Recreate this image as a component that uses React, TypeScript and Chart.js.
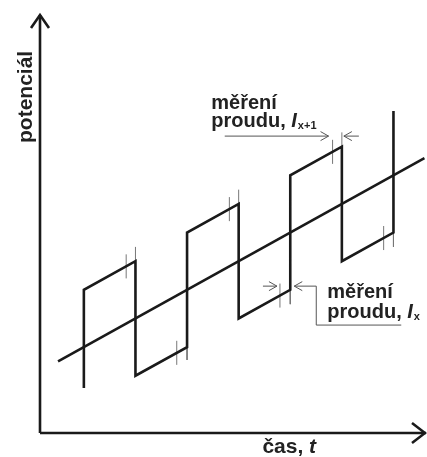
import React, { useEffect, useRef } from "react";
import { Chart, registerables } from "chart.js";

Chart.register(...registerables);

// time (half-periods) and potential (arbitrary units)
const diagonalT = [-0.5, 6.6];
const diagonalE = [2.5, 9.6];

const waveT = [0, 0, 1, 1, 2, 2, 3, 3, 4, 4, 5, 5, 6, 6];
const waveE = [1.57, 5, 6, 2, 3, 7, 8, 4, 5, 9, 10, 6, 7, 11.25];

// current-measurement marks near the end of each pulse
const tickT = [0.82, 1.8, 2.82, 3.8, 4.82, 5.81];
const tickLow = [5.4, 2.38, 7.4, 4.38, 9.4, 6.39];
const tickHigh = [6.24, 3.22, 8.24, 5.22, 10.24, 7.23];

// thin extensions of the potential steps
const extT = [1, 2, 3, 4, 5, 6];
const extFrom = [6, 3, 8, 5, 10, 7];
const extTo = [6.5, 2.55, 8.5, 4.5, 10.5, 6.5];

const xLabel = "čas, ";
const xLabelItalic = "t";
const yLabel = "potenciál";
const noteLine1 = "měření";
const noteLine2 = "proudu, ";
const noteTopSub = "x+1";
const noteBottomSub = "x";

const FONT = '"Liberation Sans", Arial, Helvetica, sans-serif';

function pairs(xs: number[], ys: number[]) {
  return xs.map((x, i) => ({ x, y: ys[i] }));
}

function segments(xs: number[], a: number[], b: number[]) {
  const out: any[] = [];
  xs.forEach((x, i) => {
    out.push({ x, y: a[i] });
    out.push({ x, y: b[i] });
    out.push({ x, y: null });
  });
  return out;
}

function arrowHead(ctx: CanvasRenderingContext2D, tx: number, ty: number, dx: number, dy: number, len: number, half: number) {
  const px = -dy, py = dx;
  ctx.beginPath();
  ctx.moveTo(tx - dx * len + px * half, ty - dy * len + py * half);
  ctx.lineTo(tx, ty);
  ctx.lineTo(tx - dx * len - px * half, ty - dy * len - py * half);
  ctx.stroke();
}

function drawNote(ctx: CanvasRenderingContext2D, x: number, y1: number, y2: number, sub: string) {
  ctx.fillStyle = "#222";
  ctx.textAlign = "left";
  ctx.textBaseline = "alphabetic";
  ctx.font = `bold 20px ${FONT}`;
  ctx.fillText(noteLine1, x, y1);
  ctx.fillText(noteLine2, x, y2);
  let cx = x + ctx.measureText(noteLine2).width;
  ctx.font = `italic bold 20px ${FONT}`;
  ctx.fillText("I", cx, y2);
  cx += ctx.measureText("I").width + 1;
  ctx.font = `bold 11px ${FONT}`;
  ctx.fillText(sub, cx, y2 + 2);
}

const annotations = {
  id: "annotations",
  afterDatasetsDraw(chart: any) {
    const ctx: CanvasRenderingContext2D = chart.ctx;
    const xs = chart.scales.x;
    const ys = chart.scales.y;
    const area = chart.chartArea;
    ctx.save();

    // axes
    ctx.strokeStyle = "#1a1a1a";
    ctx.lineWidth = 2.6;
    ctx.lineCap = "butt";
    ctx.beginPath();
    ctx.moveTo(area.left, area.bottom);
    ctx.lineTo(area.left, area.top);
    ctx.moveTo(area.left, area.bottom);
    ctx.lineTo(area.right - 1, area.bottom);
    ctx.stroke();
    ctx.lineJoin = "miter";
    arrowHead(ctx, area.left, area.top, 0, -1, 13, 9);
    arrowHead(ctx, area.right - 2, area.bottom, 1, 0, 13, 10);

    // axis labels
    ctx.fillStyle = "#222";
    ctx.font = `bold 21px ${FONT}`;
    ctx.textAlign = "left";
    ctx.textBaseline = "alphabetic";
    const lx = xs.getPixelForValue(3.46);
    ctx.fillText(xLabel, lx, area.bottom + 20);
    const w = ctx.measureText(xLabel).width;
    ctx.font = `italic bold 21px ${FONT}`;
    ctx.fillText(xLabelItalic, lx + w, area.bottom + 20);

    ctx.save();
    ctx.translate(area.left - 8, ys.getPixelForValue(11.74));
    ctx.rotate(-Math.PI / 2);
    ctx.font = `bold 21px ${FONT}`;
    ctx.textAlign = "center";
    ctx.fillText(yLabel, 0, 0);
    ctx.restore();

    // measurement arrows
    ctx.strokeStyle = "#555";
    ctx.lineWidth = 1;
    ctx.lineJoin = "miter";

    // top (I x+1)
    const ty = ys.getPixelForValue(10.37);
    const tTick = xs.getPixelForValue(tickT[4]);
    const tStep = xs.getPixelForValue(extT[4]);
    ctx.beginPath();
    ctx.moveTo(xs.getPixelForValue(2.73), ty);
    ctx.lineTo(tTick - 4, ty);
    ctx.moveTo(tStep + 2, ty);
    ctx.lineTo(tStep + 17, ty);
    ctx.stroke();
    arrowHead(ctx, tTick - 4, ty, 1, 0, 8, 4.5);
    arrowHead(ctx, tStep + 2, ty, -1, 0, 8, 4.5);

    // bottom (I x)
    const by = ys.getPixelForValue(5.13);
    const bTick = xs.getPixelForValue(tickT[3]);
    const bStep = xs.getPixelForValue(extT[3]);
    const corner = bStep + 26;
    const under = ys.getPixelForValue(3.77);
    ctx.beginPath();
    ctx.moveTo(bTick - 17, by);
    ctx.lineTo(bTick - 3, by);
    ctx.moveTo(bStep + 4, by);
    ctx.lineTo(corner, by);
    ctx.lineTo(corner, under);
    ctx.lineTo(corner + 85, under);
    ctx.stroke();
    arrowHead(ctx, bTick - 3, by, 1, 0, 8, 4.5);
    arrowHead(ctx, bStep + 4, by, -1, 0, 8, 4.5);

    drawNote(ctx, xs.getPixelForValue(2.47), ys.getPixelForValue(11.3), ys.getPixelForValue(10.68), noteTopSub);
    drawNote(ctx, corner + 11, ys.getPixelForValue(4.72), ys.getPixelForValue(4.02), noteBottomSub);

    ctx.restore();
  },
};

export default function App() {
  const ref = useRef<HTMLCanvasElement | null>(null);
  useEffect(() => {
    if (!ref.current) return;
    const chart = new Chart(ref.current, {
      type: "scatter",
      data: {
        datasets: [
          {
            data: pairs(diagonalT, diagonalE),
            showLine: true,
            borderColor: "#1a1a1a",
            borderWidth: 2.6,
            pointRadius: 0,
          },
          {
            data: pairs(waveT, waveE),
            showLine: true,
            borderColor: "#1a1a1a",
            borderWidth: 2.6,
            pointRadius: 0,
            borderJoinStyle: "miter",
          } as any,
          {
            data: segments(tickT, tickLow, tickHigh),
            showLine: true,
            spanGaps: false,
            borderColor: "#777",
            borderWidth: 1,
            pointRadius: 0,
          },
          {
            data: segments(extT, extFrom, extTo),
            showLine: true,
            spanGaps: false,
            borderColor: "#777",
            borderWidth: 1,
            pointRadius: 0,
          },
        ],
      },
      options: {
        animation: false,
        responsive: false,
        events: [],
        layout: { padding: { left: 40, right: 0, top: 15, bottom: 24 } },
        plugins: { legend: { display: false }, tooltip: { enabled: false }, title: { display: false } },
        scales: {
          x: { type: "linear", display: false, min: -0.85, max: 6.65 },
          y: { type: "linear", display: false, min: 0, max: 14.6 },
        },
      },
      plugins: [annotations],
    });
    return () => chart.destroy();
  }, []);
  return (
    <div style={{ position: "fixed", left: 0, top: 0, width: 427, height: 457, background: "#fff" }}>
      <canvas ref={ref} width={427} height={457} style={{ width: 427, height: 457 }} />
    </div>
  );
}
